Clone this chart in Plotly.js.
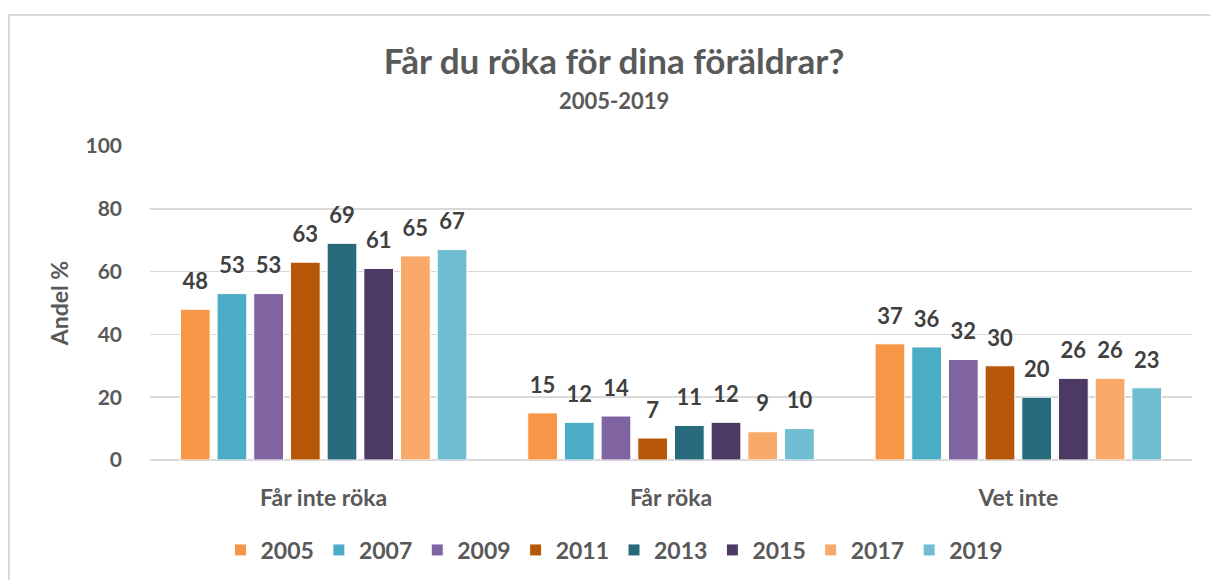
<!DOCTYPE html>
<html>
<head>
<meta charset="utf-8">
<script src="https://cdn.plot.ly/plotly-3.0.1.min.js"></script>
<style>html,body{margin:0;padding:0;background:#fff;}#chart{width:1210px;height:580px;}</style>
</head>
<body>
<div id="chart"></div>
<script>
const categories = ["Får inte röka", "Får röka", "Vet inte"];
const years = ["2005", "2007", "2009", "2011", "2013", "2015", "2017", "2019"];
const v2005 = [48, 15, 37];
const v2007 = [53, 12, 36];
const v2009 = [53, 14, 32];
const v2011 = [63, 7, 30];
const v2013 = [69, 11, 20];
const v2015 = [61, 12, 26];
const v2017 = [65, 9, 26];
const v2019 = [67, 10, 23];
const seriesValues = [v2005, v2007, v2009, v2011, v2013, v2015, v2017, v2019];
const colors = ["#F79646", "#4BACC6", "#8064A2", "#B65708", "#276A7C", "#4D3A62", "#F9AA6B", "#6FBDD1"];

const FONT = "Lato, 'Open Sans', sans-serif";
const bars = years.map((y, i) => ({
  type: "bar",
  name: y,
  x: categories,
  y: seriesValues[i],
  offsetgroup: y,
  marker: {color: colors[i], line: {color: "#ffffff", width: 1}},
  hoverinfo: "x+y+name"
}));
const labels = years.map((y, i) => ({
  type: "scatter",
  mode: "markers+text",
  name: y,
  x: categories,
  y: seriesValues[i],
  offsetgroup: y,
  text: seriesValues[i].map(String),
  textposition: "top center",
  cliponaxis: false,
  marker: {size: 22, opacity: 0, color: colors[i]},
  textfont: {family: FONT, size: 22, color: "#404040", weight: "bold"},
  showlegend: false,
  hoverinfo: "skip"
}));

const layout = {
  width: 1210, height: 580,
  margin: {l: 150, r: 18, t: 146, b: 120},
  paper_bgcolor: "#fff", plot_bgcolor: "#fff",
  barmode: "group", bargap: 0.155, bargroupgap: 0.19,
  scattermode: "group", scattergap: 0.155,
  title: {text: "<b>Får du röka för dina föräldrar?</b>", x: (614-150)/1042, xref: "paper", xanchor: "center",
          y: 1 - 62/580, yref: "container", yanchor: "middle",
          font: {family: FONT, size: 35, color: "#595959"}},
  annotations: [{text: "<b>2005-2019</b>", xref: "paper", yref: "paper", x: (614-150)/1042, y: (460-100)/314,
                 xanchor: "center", yanchor: "middle", showarrow: false,
                 font: {family: FONT, size: 22, color: "#595959"}}],
  xaxis: {type: "category", showgrid: false, showline: false, zeroline: false, ticks: "",
          tickfont: {family: FONT, size: 23, color: "#595959", weight: "bold"}, ticklabelstandoff: 22, fixedrange: true},
  yaxis: {range: [0, 100], dtick: 20, showgrid: true, gridcolor: "#d9d9d9", gridwidth: 1.5,
          zeroline: true, zerolinecolor: "#d9d9d9", zerolinewidth: 1.5, showline: false, ticks: "",
          tickfont: {family: FONT, size: 21, color: "#595959", weight: "bold"}, ticklabelstandoff: 27,
          title: {text: "<b>Andel %</b>", font: {family: FONT, size: 23, color: "#595959"}, standoff: 10},
          fixedrange: true},
  legend: {orientation: "h", x: 614/1210, xref: "container", xanchor: "center",
           y: 1 - 550/580, yref: "container", yanchor: "middle",
           font: {family: FONT, size: 23, color: "#595959", weight: "bold"}, traceorder: "normal",
           itemwidth: 30, tracegroupgap: 0},
  shapes: [{type: "rect", xref: "paper", yref: "paper",
            x0: (9-150)/1042, x1: (1215-150)/1042, y0: (460-585)/314, y1: (460-15)/314,
            line: {color: "#d9d9d9", width: 2}, fillcolor: "rgba(0,0,0,0)", layer: "below"}],
  showlegend: true
};

Plotly.newPlot("chart", bars.concat(labels), layout, {displayModeBar: false, staticPlot: true});
</script>
</body>
</html>
